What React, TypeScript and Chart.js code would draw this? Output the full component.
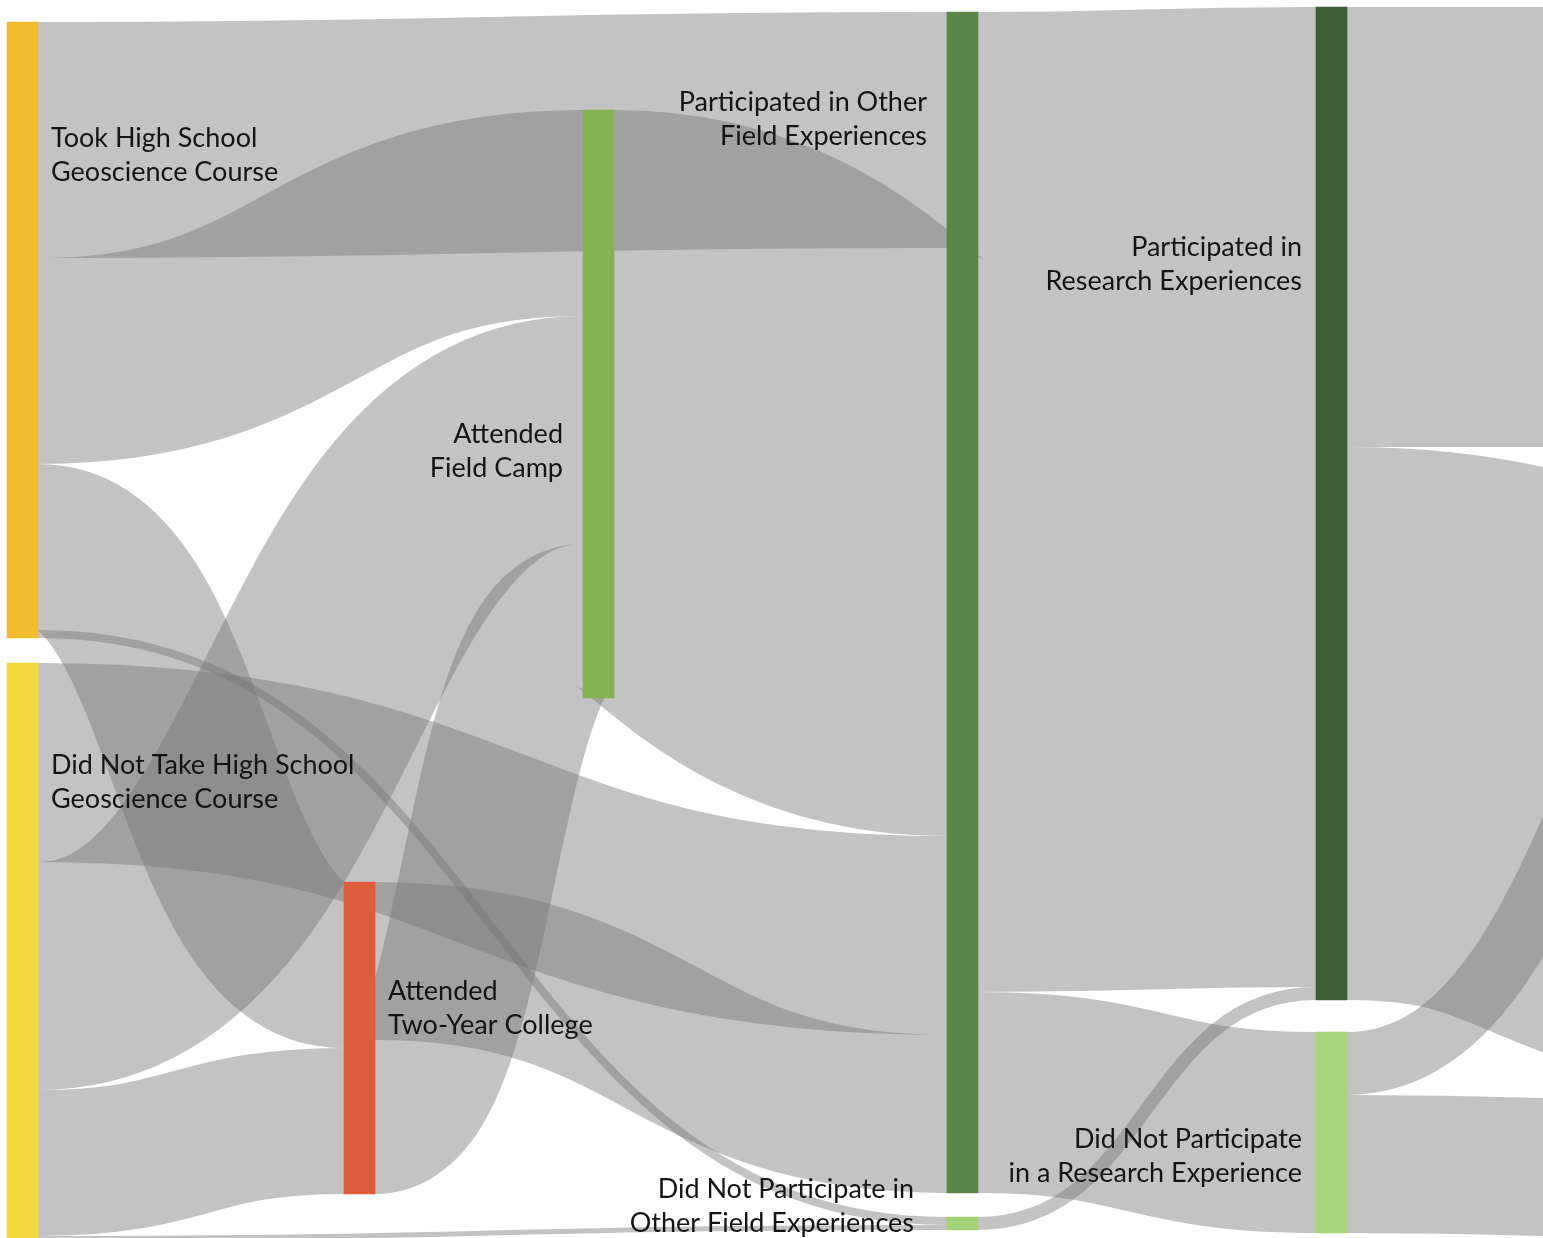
import React, { useEffect, useRef } from 'react';
import { Chart, registerables } from 'chart.js';

Chart.register(...registerables);

// ---------- DATA ----------
// Nodes (stages of the pathway)
const nodeNames = [
  'Took High School Geoscience Course',
  'Did Not Take High School Geoscience Course',
  'Attended Two-Year College',
  'Attended Field Camp',
  'Participated in Other Field Experiences',
  'Did Not Participate in Other Field Experiences',
  'Participated in Research Experiences',
  'Did Not Participate in a Research Experience',
  'Outcome A',
  'Outcome B',
];
const nodeLabelLines = [
  ['Took High School', 'Geoscience Course'],
  ['Did Not Take High School', 'Geoscience Course'],
  ['Attended', 'Two-Year College'],
  ['Attended', 'Field Camp'],
  ['Participated in Other', 'Field Experiences'],
  ['Did Not Participate in', 'Other Field Experiences'],
  ['Participated in', 'Research Experiences'],
  ['Did Not Participate', 'in a Research Experience'],
  [],
  [],
];
const nodeColumns = [0, 0, 1, 2, 3, 3, 4, 4, 5, 5];

// Flows (source index -> target index, number of students)
const flowSources = [0, 0, 0, 0, 3, 1, 1, 1, 1, 2, 2, 4, 4, 5, 6, 6, 7, 7];
const flowTargets = [4, 3, 2, 5, 4, 4, 3, 2, 5, 4, 3, 6, 7, 6, 8, 9, 8, 9];
const flowValues = [236, 206, 166, 8, 588, 199, 228, 146, 5, 158, 154, 980, 201, 13, 440, 553, 63, 138];

// ---------- LAYOUT / STYLE ----------
const X_RANGE = [0, 1543];
const Y_RANGE = [0, 1238];
const COLUMN_LEFT = [7, 344, 583, 947, 1316, 1847];
const COLUMN_TOP = [22, 882, 110, 12, 7, 7];
const COLUMN_GAP = [25, 0, 0, 24, 32, 42];
const NODE_WIDTH = 31;
const NODE_COLORS = ['#F2BB30', '#F2D83A', '#DF5C3C', '#86B352', '#5B8549', '#A6D277', '#3F5F38', '#A8D47B', '#888888', '#888888'];
const FLOW_COLOR = 'rgba(118,118,118,0.44)';
// label placement: side of node, pixel gap, baseline of first line (in value units)
const LABEL_SIDE = ['right', 'right', 'right', 'left', 'left', 'left', 'left', 'left', 'none', 'none'];
const LABEL_GAP = [13, 13, 13, 20, 20, 33, 14, 14, 0, 0];
const LABEL_BASELINE = [147, 774, 1000, 443, 111, 1198, 256, 1148, 0, 0];
const LABEL_LINE_HEIGHT = 34;
const LABEL_FONT = '27px Lato, "Open Sans", sans-serif';

function computeLayout() {
  const n = nodeNames.length;
  const inSum = new Array(n).fill(0);
  const outSum = new Array(n).fill(0);
  flowValues.forEach((v, i) => {
    outSum[flowSources[i]] += v;
    inSum[flowTargets[i]] += v;
  });
  const size = inSum.map((v, i) => Math.max(v, outSum[i]));
  const top = new Array(n).fill(0);
  const colCursor: number[] = COLUMN_TOP.slice();
  for (let i = 0; i < n; i++) {
    const c = nodeColumns[i];
    top[i] = colCursor[c];
    colCursor[c] += size[i] + COLUMN_GAP[c];
  }
  const outCursor = top.slice();
  const inCursor = top.slice();
  const srcOff: number[] = [];
  const tgtOff: number[] = [];
  flowValues.forEach((v, i) => {
    srcOff.push(outCursor[flowSources[i]]);
    outCursor[flowSources[i]] += v;
    tgtOff.push(inCursor[flowTargets[i]]);
    inCursor[flowTargets[i]] += v;
  });
  return { size, top, srcOff, tgtOff };
}

function clipToArea(ctx: CanvasRenderingContext2D, chartArea: any) {
  ctx.beginPath();
  ctx.rect(chartArea.left, chartArea.top, chartArea.right - chartArea.left, chartArea.bottom - chartArea.top);
  ctx.clip();
}

const sankeyPlugin = {
  id: 'sankeyFlows',
  beforeDatasetsDraw(chart: any) {
    const { ctx, chartArea, scales } = chart;
    const xs = scales.x;
    const ys = scales.y;
    const L = computeLayout();
    ctx.save();
    clipToArea(ctx, chartArea);
    ctx.strokeStyle = FLOW_COLOR;
    ctx.lineCap = 'butt';
    flowValues.forEach((v, i) => {
      const s = flowSources[i];
      const t = flowTargets[i];
      const x0 = xs.getPixelForValue(COLUMN_LEFT[nodeColumns[s]] + NODE_WIDTH);
      const x1 = xs.getPixelForValue(COLUMN_LEFT[nodeColumns[t]]);
      const y0 = ys.getPixelForValue(L.srcOff[i] + v / 2);
      const y1 = ys.getPixelForValue(L.tgtOff[i] + v / 2);
      const w = Math.abs(ys.getPixelForValue(v) - ys.getPixelForValue(0));
      const xm = (x0 + x1) / 2;
      ctx.beginPath();
      ctx.moveTo(x0, y0);
      ctx.bezierCurveTo(xm, y0, xm, y1, x1, y1);
      ctx.lineWidth = w;
      ctx.stroke();
    });
    ctx.restore();
  },
  afterDatasetsDraw(chart: any) {
    const { ctx, chartArea, scales } = chart;
    const xs = scales.x;
    const ys = scales.y;
    ctx.save();
    clipToArea(ctx, chartArea);
    ctx.font = LABEL_FONT;
    ctx.fillStyle = '#141414';
    ctx.textBaseline = 'alphabetic';
    nodeLabelLines.forEach((lines, i) => {
      const side = LABEL_SIDE[i];
      if (side === 'none') return;
      const c = nodeColumns[i];
      let x: number;
      if (side === 'right') {
        x = xs.getPixelForValue(COLUMN_LEFT[c] + NODE_WIDTH) + LABEL_GAP[i];
        ctx.textAlign = 'left';
      } else {
        x = xs.getPixelForValue(COLUMN_LEFT[c]) - LABEL_GAP[i];
        ctx.textAlign = 'right';
      }
      lines.forEach((line, k) => {
        const y = ys.getPixelForValue(LABEL_BASELINE[i]) + k * LABEL_LINE_HEIGHT;
        ctx.fillText(line, x, y);
      });
    });
    ctx.restore();
  },
};

export default function App() {
  const canvasRef = useRef<HTMLCanvasElement | null>(null);

  useEffect(() => {
    if (!canvasRef.current) return;
    const L = computeLayout();
    const chart = new Chart(canvasRef.current, {
      type: 'bar',
      data: {
        datasets: [
          {
            label: 'Stages',
            data: nodeNames.map((_, i) => ({
              x: COLUMN_LEFT[nodeColumns[i]] + NODE_WIDTH / 2,
              y: [L.top[i], L.top[i] + L.size[i]],
            })) as any,
            backgroundColor: NODE_COLORS,
            borderWidth: 0,
            borderSkipped: false,
            barThickness: NODE_WIDTH,
          } as any,
        ],
      },
      options: {
        responsive: false,
        animation: false,
        devicePixelRatio: 1,
        layout: { padding: 0 },
        plugins: {
          legend: { display: false },
          tooltip: { enabled: false },
          title: { display: false },
        },
        scales: {
          x: { type: 'linear', min: X_RANGE[0], max: X_RANGE[1], offset: false, display: false },
          y: { type: 'linear', min: Y_RANGE[0], max: Y_RANGE[1], reverse: true, display: false },
        },
      } as any,
      plugins: [sankeyPlugin],
    });
    return () => chart.destroy();
  }, []);

  return (
    <div style={{ position: 'fixed', left: 0, top: 0, width: 1543, height: 1238, background: '#ffffff' }}>
      <canvas ref={canvasRef} width={1543} height={1238} style={{ display: 'block' }} />
    </div>
  );
}
